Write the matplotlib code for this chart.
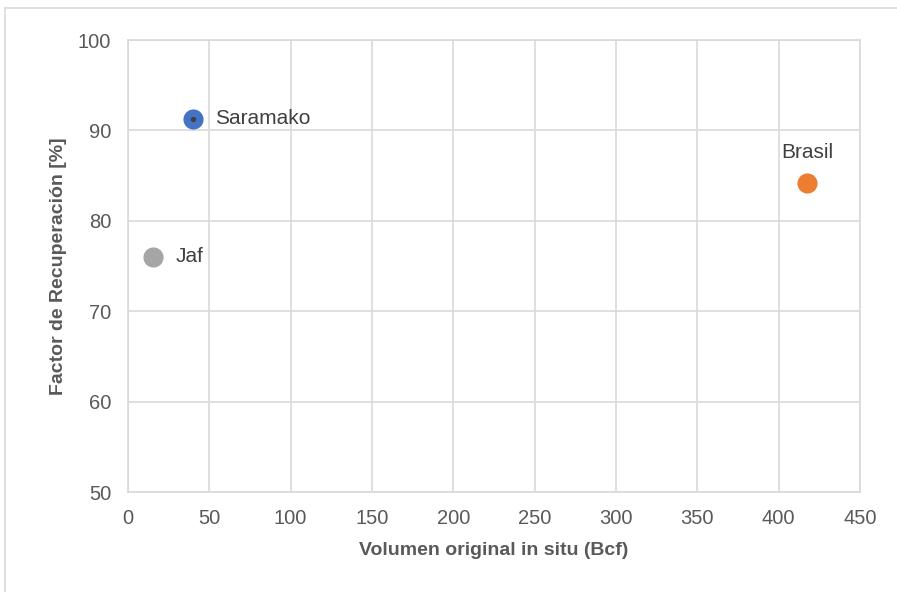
#
# Imports
#
from matplotlib import pyplot as plt
from matplotlib.patches import Rectangle


#
# Data
#
names = ['Saramako', 'Jaf', 'Brasil']
volumen = [40, 15.5, 417.5]
factor = [91.3, 76.0, 84.2]
colors = ['#4472C4', '#A5A5A5', '#ED7D31']
label_offsets = [(16, 0), (16, 0), (0, 22)]

plt.rcParams['font.family'] = ['Liberation Sans', 'DejaVu Sans']

if __name__ == "__main__":
    fig = plt.figure(figsize=(8.97, 5.92), dpi=100)
    ax = fig.add_axes([0.1427, 0.1689, 0.8161, 0.7635])

    # outer chart border (runs off right/bottom like the source)
    fig.patches.append(Rectangle((5 / 897, -0.1), 1.2, 1 - 8 / 592 + 0.1,
                                 transform=fig.transFigure, fill=False,
                                 edgecolor='#D9D9D9', linewidth=1.2))

    for n, x, y, c, off in zip(names, volumen, factor, colors, label_offsets):
        ax.scatter(x, y, s=210, color=c, zorder=3, linewidths=0)
        ha = 'left' if off[1] == 0 else 'center'
        ax.annotate(n, (x, y), xytext=off, textcoords='offset points',
                    ha=ha, va='center', fontsize=15, color='#404040')
    # small marker inside Saramako point
    ax.scatter(volumen[0], factor[0], s=8, color='#404040', zorder=4)

    ax.set_xlim(0, 450)
    ax.set_ylim(50, 100)
    ax.set_xticks(range(0, 451, 50))
    ax.set_yticks(range(50, 101, 10))
    ax.grid(color='#D9D9D9', linewidth=1.2)
    ax.set_axisbelow(True)
    for s in ax.spines.values():
        s.set_color('#D9D9D9')
        s.set_linewidth(1.2)
    ax.tick_params(length=0, labelsize=14.5, labelcolor='#595959')
    ax.tick_params(axis='x', pad=12)
    ax.tick_params(axis='y', pad=12)
    ax.set_xlabel('Volumen original in situ (Bcf)', fontsize=14, fontweight='bold',
                  color='#595959', labelpad=10)
    ax.set_ylabel('Factor de Recuperación [%]', fontsize=14, fontweight='bold',
                  color='#595959', labelpad=8)

    plt.savefig('out.png', dpi=100)
